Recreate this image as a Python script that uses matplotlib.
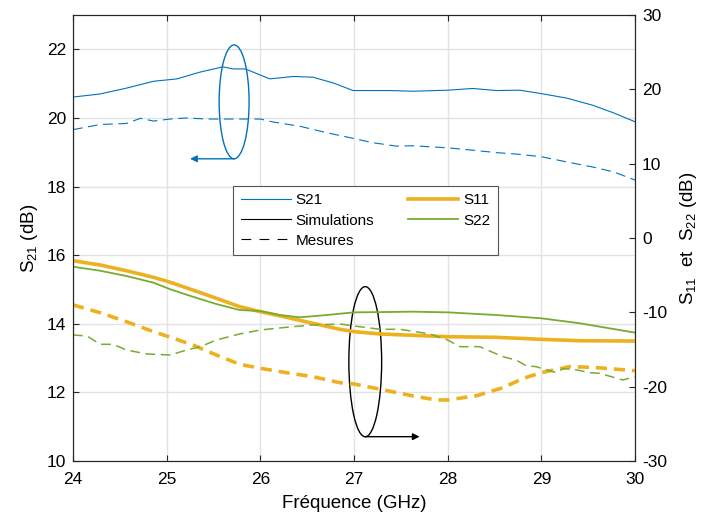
import matplotlib
matplotlib.use("Agg")
import matplotlib.pyplot as plt
from matplotlib.patches import Ellipse
from matplotlib.lines import Line2D

plt.rcParams["font.family"] = ["Liberation Sans", "DejaVu Sans"]
plt.rcParams["mathtext.default"] = "regular"
plt.rcParams["lines.scale_dashes"] = False
plt.rcParams["axes.unicode_minus"] = False

bleu = "#0072BD"
orange = "#EDB120"
vert = "#77AC30"

# S21 simulation (axe gauche)
f_s21_sim = [24, 24.29, 24.57, 24.86, 25.11, 25.36, 25.6, 25.71, 25.84, 26.1, 26.35, 26.56, 26.78,
             26.99, 27.38, 27.63, 28.0, 28.27, 28.52, 28.77, 29.0, 29.27, 29.55, 29.77, 30]
s21_sim = [20.61, 20.70, 20.87, 21.07, 21.14, 21.34, 21.49, 21.43, 21.43, 21.14, 21.21, 21.19, 21.02,
           20.80, 20.80, 20.78, 20.81, 20.86, 20.80, 20.81, 20.71, 20.58, 20.37, 20.15, 19.89]

# S21 mesure
f_s21_mes = [24, 24.29, 24.57, 24.72, 24.86, 25.04, 25.21, 25.43, 25.71, 26.0, 26.14, 26.42, 26.71,
             27.0, 27.2, 27.45, 27.63, 28.0, 28.27, 28.52, 28.77, 29.0, 29.27, 29.55, 29.77, 30]
s21_mes = [19.66, 19.81, 19.84, 19.99, 19.91, 19.97, 20.0, 19.97, 19.97, 19.97, 19.88, 19.76, 19.57,
           19.40, 19.28, 19.18, 19.19, 19.13, 19.06, 18.99, 18.94, 18.87, 18.72, 18.57, 18.43, 18.19]

# S11 simulation (axe droit)
f_s11_sim = [24, 24.29, 24.57, 24.86, 25.04, 25.28, 25.53, 25.78, 26.0, 26.28, 26.56, 26.85, 27.0,
             27.28, 28.0, 28.52, 29.0, 29.41, 30]
s11_sim = [-3.05, -3.63, -4.40, -5.29, -5.96, -7.0, -8.11, -9.24, -9.91, -10.67, -11.47, -12.28, -12.6,
           -12.91, -13.28, -13.36, -13.63, -13.82, -13.86]

# S22 simulation
f_s22_sim = [24, 24.29, 24.57, 24.86, 25.04, 25.28, 25.53, 25.78, 26.0, 26.21, 26.42, 26.71, 27.0,
             27.38, 27.63, 28.0, 28.52, 29.0, 29.41, 30]
s22_sim = [-3.86, -4.40, -5.11, -6.01, -6.9, -7.9, -8.88, -9.69, -9.82, -10.36, -10.67, -10.36, -10.0,
           -9.95, -9.91, -10.0, -10.36, -10.8, -11.47, -12.73]

# S11 mesure
f_s11_mes = [24, 24.29, 24.57, 24.86, 25.04, 25.28, 25.53, 25.78, 26.0, 26.28, 26.56, 26.85, 27.0,
             27.28, 27.63, 27.88, 28.0, 28.31, 28.59, 28.81, 29.0, 29.30, 29.55, 30]
s11_mes = [-9.0, -10.05, -11.26, -12.6, -13.36, -14.39, -15.74, -16.99, -17.53, -18.12, -18.66, -19.47,
           -19.64, -20.35, -21.25, -21.79, -21.79, -21.21, -20.14, -18.87, -18.12, -17.31, -17.4, -17.85]

# S22 mesure
f_s22_mes = [24, 24.15, 24.29, 24.43, 24.57, 24.79, 25.04, 25.21, 25.36, 25.53, 25.78, 26.0, 26.28,
             26.56, 26.85, 27.06, 27.28, 27.49, 27.81, 28.0, 28.13, 28.34, 28.59, 28.73, 28.84, 28.94,
             29.16, 29.23, 29.34, 29.52, 29.62, 29.87, 30]
s22_mes = [-13.05, -13.18, -14.3, -14.3, -15.07, -15.6, -15.74, -15.07, -14.62, -13.72, -12.91, -12.37,
           -12.01, -11.7, -11.57, -11.93, -12.28, -12.28, -12.91, -13.72, -14.62, -14.62, -15.97, -16.41,
           -17.2, -17.3, -18.12, -17.6, -17.65, -18.12, -18.2, -19.1, -18.66]

fig = plt.figure(figsize=(7.04, 5.2), dpi=100)
ax = fig.add_axes([0.1037, 0.1135, 0.7983, 0.8575])
ax2 = ax.twinx()

ax.plot(f_s21_sim, s21_sim, color=bleu, lw=0.8)
ax.plot(f_s21_mes, s21_mes, color=bleu, lw=0.8, ls="--", dashes=(7, 4))

ax2.plot(f_s11_sim, s11_sim, color=orange, lw=2.6)
ax2.plot(f_s22_sim, s22_sim, color=vert, lw=1.3)
ax2.plot(f_s11_mes, s11_mes, color=orange, lw=2.6, ls="--", dashes=(8, 5))
ax2.plot(f_s22_mes, s22_mes, color=vert, lw=1.1, ls="--", dashes=(7, 4))

# annotations (ellipses + fleches)
ax.add_patch(Ellipse((25.72, 20.47), 0.32, 3.32, fill=False, ec=bleu, lw=1.0))
ax.annotate("", xy=(25.25, 18.81), xytext=(25.72, 18.81),
            arrowprops=dict(arrowstyle="-|>", color=bleu, lw=1.0, mutation_scale=10,
                            shrinkA=0, shrinkB=0))
ax2.add_patch(Ellipse((27.12, -16.64), 0.35, 20.2, fill=False, ec="black", lw=1.0))
ax2.annotate("", xy=(27.7, -26.73), xytext=(27.12, -26.73),
             arrowprops=dict(arrowstyle="-|>", color="black", lw=1.0, mutation_scale=10,
                             shrinkA=0, shrinkB=0))

ax.set_xlim(24, 30)
ax.set_ylim(10, 23)
ax.set_xticks([24, 25, 26, 27, 28, 29, 30])
ax.set_yticks([10, 12, 14, 16, 18, 20, 22])
ax2.set_ylim(-30, 30)
ax2.set_yticks([-30, -20, -10, 0, 10, 20, 30])

ax.grid(True, color="#e3e3e3", lw=1.0)
ax.set_axisbelow(True)

for a in (ax, ax2):
    for s in a.spines.values():
        s.set_color("#262626")
        s.set_linewidth(0.8)
ax.tick_params(direction="in", top=True, right=False, length=4, width=0.8,
               labelsize=12.5, color="#262626", pad=5)
ax.tick_params(axis="x", pad=8)
ax2.tick_params(direction="in", length=4, width=0.8, labelsize=12.5, color="#262626", pad=5)

ax.set_xlabel("Fréquence (GHz)", fontsize=13.5, labelpad=6)
ax.set_ylabel("S$_{21}$ (dB)", fontsize=13.5, labelpad=5)
ax2.set_ylabel("S$_{11}$  et  S$_{22}$ (dB)", fontsize=13.5, labelpad=8)

handles = [
    Line2D([], [], color=bleu, lw=0.8),
    Line2D([], [], color="black", lw=0.8),
    Line2D([], [], color="black", lw=0.8, ls="--", dashes=(7, 6)),
    Line2D([], [], color=orange, lw=2.6),
    Line2D([], [], color=vert, lw=1.3),
]
labels = ["S21", "Simulations", "Mesures", "S11", "S22"]
leg = ax2.legend(handles, labels, ncol=2, loc="upper left", bbox_to_anchor=(0.285, 0.617),
                 borderaxespad=0, fontsize=11, fancybox=False, framealpha=1,
                 edgecolor="#555555", handlelength=3.3, handletextpad=0.3,
                 columnspacing=2.2, labelspacing=0.4, borderpad=0.5)
leg.get_frame().set_linewidth(0.8)

fig.savefig("out.png", dpi=100)
